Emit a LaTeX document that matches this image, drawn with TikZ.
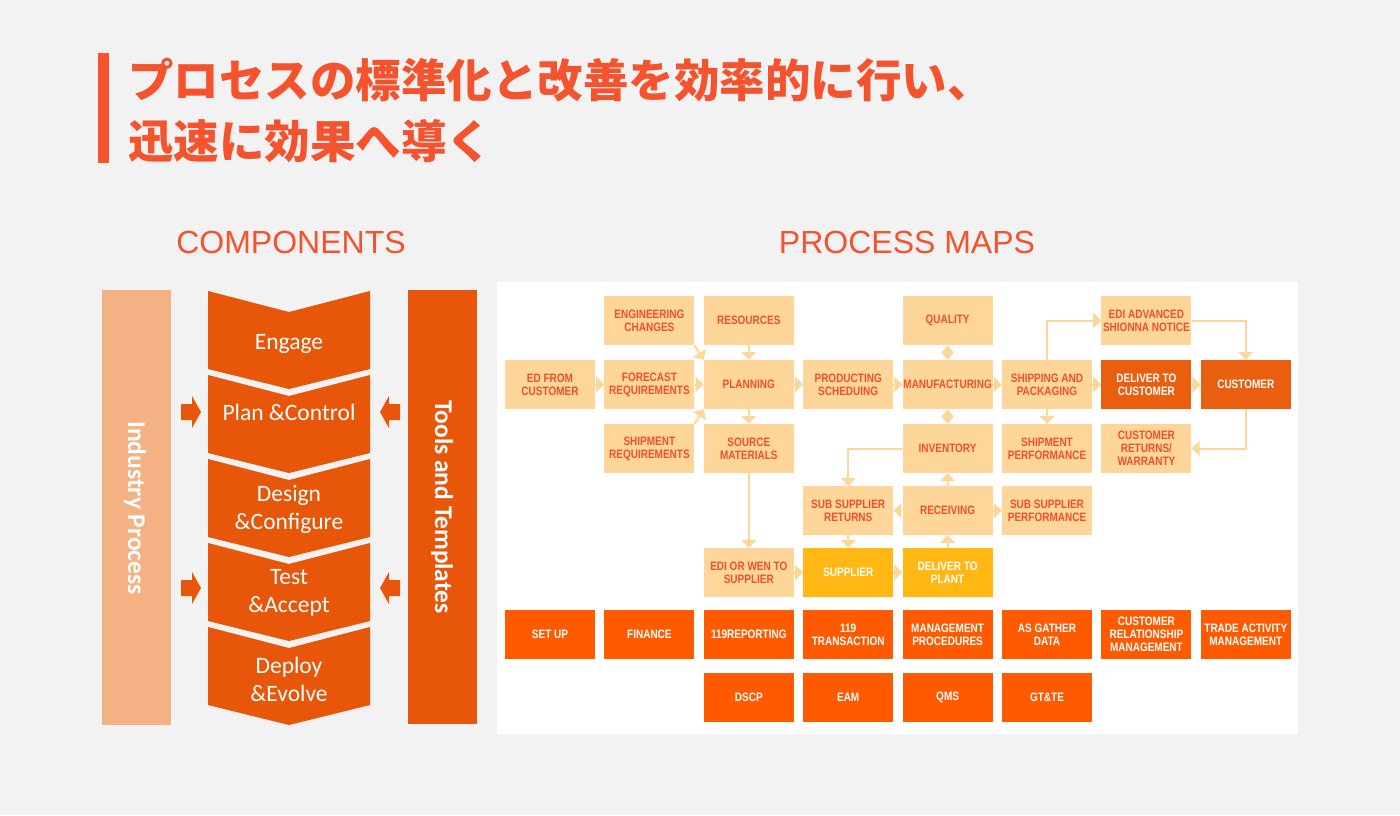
\documentclass[tikz,border=0pt]{standalone}
\usepackage{fontspec}
\usetikzlibrary{arrows.meta}
\setmainfont{Carlito}
\newfontfamily\jp{Noto Sans CJK JP}
\newfontfamily\bx[FakeStretch=0.82]{Liberation Sans}
\newfontfamily\hd{Liberation Sans}
\definecolor{bg}{HTML}{F2F2F2}
\definecolor{titlered}{HTML}{F4532E}
\definecolor{chev}{HTML}{E8560A}
\definecolor{salmon}{HTML}{F4B183}
\definecolor{peach}{HTML}{FFD699}
\definecolor{peachtext}{HTML}{F0502A}
\definecolor{dorange}{HTML}{E95E0F}
\definecolor{borange}{HTML}{FF5A00}
\definecolor{yel}{HTML}{FFB713}
\tikzset{
  box/.style={rectangle, minimum width=90pt, minimum height=49pt, inner sep=0pt, align=center,
    font=\bx\bfseries\fontsize{12.2}{13}\selectfont},
  lbox/.style={box, fill=peach, text=peachtext},
  dbox/.style={box, fill=dorange, text=white},
  obox/.style={box, fill=borange, text=white},
  ybox/.style={box, fill=yel, text=white},
  conn/.style={draw=peach, line width=2pt, -{Triangle[length=8pt,width=15pt]}},
  dconn/.style={draw=peach, line width=2pt, {Triangle[length=7.5pt,width=12pt]}-{Triangle[length=7.5pt,width=12pt]}},
  chevtext/.style={text=white, font=\fontsize{23.5}{28}\selectfont, align=center, inner sep=0pt},
  bartext/.style={text=white, font=\bfseries\fontsize{25.5}{30}\selectfont, rotate=-90, inner sep=0pt},
  head/.style={text=titlered, font=\hd\fontsize{32}{36}\selectfont, inner sep=0pt, anchor=base},
  jptitle/.style={text=titlered, font=\jp\bfseries\fontsize{45.5}{50}\selectfont, inner sep=0pt, anchor=base west}
}
\begin{document}
\begin{tikzpicture}[x=1pt,y=-1pt]
\fill[bg] (0,0) rectangle (1400,815);
\useasboundingbox (0,0) rectangle (1400,815);
% title
\fill[titlered] (98,53) rectangle (109,163);
\node[jptitle] (t1) at (128,97) {プロセスの標準化と改善を効率的に行い、};
\node[jptitle] (t2) at (128,158) {迅速に効果へ導く};
\node[head] (hc) at (291,253) {COMPONENTS};
\node[head] (hp) at (907,253) {PROCESS MAPS};
% left bars
\fill[salmon] (102,290) rectangle (171,725);
\node[bartext] (ip) at (135,508) {Industry Process};
\fill[chev] (408,290) rectangle (477,724);
\node[bartext] (tt) at (442,507) {Tools and Templates};
% chevrons
\foreach \i in {0,...,4}{
  \pgfmathsetmacro{\t}{291+84*\i}
  \fill[chev] (208,\t) -- (289,\t+21) -- (370,\t) -- (370,\t+78) -- (289,\t+98) -- (208,\t+78) -- cycle;
}
\node[chevtext] (c1) at (289,344) {Engage};
\node[chevtext] (c2) at (289,412) {Plan \&Control};
\node[chevtext] (c3) at (289,509) {Design\\\&Configure};
\node[chevtext] (c4) at (289,593) {Test\\\&Accept};
\node[chevtext] (c5) at (289,679) {Deploy\\\&Evolve};
% small block arrows
\foreach \c in {412,588}{
  \fill[chev] (181,\c-8) -- (192,\c-8) -- (192,\c-16) -- (201,\c) -- (192,\c+16) -- (192,\c+8) -- (181,\c+8) -- cycle;
  \fill[chev] (400,\c-8) -- (389,\c-8) -- (389,\c-16) -- (380,\c) -- (389,\c+16) -- (389,\c+8) -- (400,\c+8) -- cycle;
}
% process map panel
\fill[white] (497,282) rectangle (1298,734);
% row 0
\node[lbox] (ec) at (649.4,320.5) {ENGINEERING\\CHANGES};
\node[lbox] (rs) at (748.8,320.5) {RESOURCES};
\node[lbox] (ql) at (947.6,320.5) {QUALITY};
\node[lbox] (ea) at (1146.4,320.5) {EDI ADVANCED\\SHIONNA NOTICE};
% row 1
\node[lbox] (ed) at (550,384.5) {ED FROM\\CUSTOMER};
\node[lbox] (fr) at (649.4,384.5) {FORECAST\\REQUIREMENTS};
\node[lbox] (pl) at (748.8,384.5) {PLANNING};
\node[lbox] (ps) at (848.2,384.5) {PRODUCTING\\SCHEDUING};
\node[lbox] (mf) at (947.6,384.5) {MANUFACTURING};
\node[lbox] (sp) at (1047,384.5) {SHIPPING AND\\PACKAGING};
\node[dbox] (dc) at (1146.4,384.5) {DELIVER TO\\CUSTOMER};
\node[dbox] (cu) at (1245.8,384.5) {CUSTOMER};
% row 2
\node[lbox] (sr) at (649.4,448.5) {SHIPMENT\\REQUIREMENTS};
\node[lbox] (sm) at (748.8,448.5) {SOURCE\\MATERIALS};
\node[lbox] (iv) at (947.6,448.5) {INVENTORY};
\node[lbox] (pf) at (1047,448.5) {SHIPMENT\\PERFORMANCE};
\node[lbox] (cr) at (1146.4,448.5) {CUSTOMER\\RETURNS/\\WARRANTY};
% row 3
\node[lbox] (ss) at (848.2,510.5) {SUB SUPPLIER\\RETURNS};
\node[lbox] (rc) at (947.6,510.5) {RECEIVING};
\node[lbox] (sf) at (1047,510.5) {SUB SUPPLIER\\PERFORMANCE};
% row 4
\node[lbox] (ew) at (748.8,572.5) {EDI OR WEN TO\\SUPPLIER};
\node[ybox] (su) at (848.2,572.5) {SUPPLIER};
\node[ybox] (dp) at (947.6,572.5) {DELIVER TO\\PLANT};
% row 5
\node[obox] (b1) at (550,634.5) {SET UP};
\node[obox] (b2) at (649.4,634.5) {FINANCE};
\node[obox] (b3) at (748.8,634.5) {119REPORTING};
\node[obox] (b4) at (848.2,634.5) {119\\TRANSACTION};
\node[obox] (b5) at (947.6,634.5) {MANAGEMENT\\PROCEDURES};
\node[obox] (b6) at (1047,634.5) {AS GATHER\\DATA};
\node[obox] (b7) at (1146.4,634.5) {CUSTOMER\\RELATIONSHIP\\MANAGEMENT};
\node[obox] (b8) at (1245.8,634.5) {TRADE ACTIVITY\\MANAGEMENT};
% row 6
\node[obox] (d1) at (748.8,697.5) {DSCP};
\node[obox] (d2) at (848.2,697.5) {EAM};
\node[obox] (d3) at (947.6,697.5) {QMS};
\node[obox] (d4) at (1047,697.5) {GT\&TE};
% connectors
\draw[conn] (ed.east) -- (fr.west);
\draw[conn] (fr.east) -- (pl.west);
\draw[conn] (ec.south east) -- (pl.north west);
\draw[conn] (sr.north east) -- (pl.south west);
\draw[conn] (rs.south) -- (pl.north);
\draw[conn] (pl.south) -- (sm.north);
\draw[conn] (pl.east) -- (ps.west);
\draw[conn] (ps.east) -- (mf.west);
\draw[dconn] (ql.south) -- (mf.north);
\draw[dconn] (mf.south) -- (iv.north);
\draw[conn] (mf.east) -- (sp.west);
\draw[conn] (sp.east) -- (dc.west);
\draw[conn] (dc.east) -- (cu.west);
\draw[conn] (sp.south) -- (pf.north);
\draw[conn] (sp.north) |- (ea.west);
\draw[conn] (ea.east) -| (cu.north);
\draw[conn] (cu.south) |- (cr.east);
\draw[conn] (iv.west) -| (ss.north);
\draw[conn] (rc.north) -- (iv.south);
\draw[conn] (rc.west) -- (ss.east);
\draw[conn] (rc.east) -- (sf.west);
\draw[conn] (ss.south) -- (su.north);
\draw[conn] (dp.north) -- (rc.south);
\draw[conn] (su.east) -- (dp.west);
\draw[conn] (ew.east) -- (su.west);
\draw[conn] (sm.south) -- (ew.north);
\end{tikzpicture}
\end{document}
